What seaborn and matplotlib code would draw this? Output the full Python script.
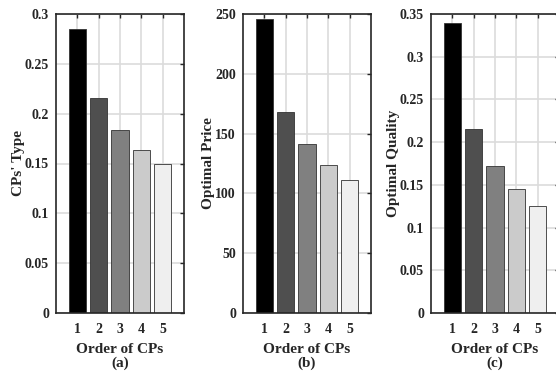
import matplotlib
matplotlib.use("Agg")
import matplotlib.pyplot as plt
import seaborn as sns
import pandas as pd
from matplotlib.ticker import FixedLocator, FuncFormatter

order = ["1", "2", "3", "4", "5"]
cp_type = [0.285, 0.216, 0.184, 0.164, 0.150]
opt_price = [246, 168, 141, 124, 111]
opt_quality = [0.340, 0.215, 0.172, 0.145, 0.125]
bar_colors = ["#000000", "#4f4f4f", "#808080", "#cbcbcb", "#efefef"]

ylabels = ["CPs' Type", "Optimal Price", "Optimal Quality"]
captions = ["(a)", "(b)", "(c)"]
yticks = [[0, 0.05, 0.1, 0.15, 0.2, 0.25, 0.3],
          [0, 50, 100, 150, 200, 250],
          [0, 0.05, 0.1, 0.15, 0.2, 0.25, 0.3, 0.35]]
ylims = [(0, 0.3), (0, 250), (0, 0.35)]
series = [cp_type, opt_price, opt_quality]

sns.set_style("white")
plt.rcParams["font.family"] = ["Liberation Serif", "DejaVu Serif"]
plt.rcParams["font.weight"] = "bold"

fig = plt.figure(figsize=(5.56, 3.74), dpi=100)
lefts = [56 / 556, 243 / 556, 431 / 556]
w = 128 / 556
b = (374 - 313) / 374
h = (313 - 14) / 374

fmt = FuncFormatter(lambda v, p: ("%g" % v))

for i in range(3):
    ax = fig.add_axes([lefts[i], b, w, h])
    df = pd.DataFrame({"order": order, "value": series[i]})
    sns.barplot(data=df, x="order", y="value", hue="order", palette=bar_colors,
                order=order, hue_order=order, legend=False, width=0.8,
                edgecolor="#333333", linewidth=0.6, saturation=1, ax=ax)
    ax.set_xlim(-1, 5)
    ax.set_ylim(*ylims[i])
    ax.yaxis.set_major_locator(FixedLocator(yticks[i]))
    ax.yaxis.set_major_formatter(fmt)
    ax.set_axisbelow(True)
    ax.grid(True, color="#dcdcdc", linewidth=1.2)
    ax.tick_params(direction="in", length=3, width=1, top=True, right=True,
                   labelsize=10, pad=5, color="#262626")
    ax.tick_params(axis="x", pad=7)
    for lab in ax.get_xticklabels() + ax.get_yticklabels():
        lab.set_fontweight("bold")
    for s in ax.spines.values():
        s.set_visible(True)
        s.set_color("#262626")
        s.set_linewidth(1.2)
    ax.set_xlabel("Order of CPs\n" + captions[i], fontsize=11,
                  fontweight="bold", labelpad=5, linespacing=1.05)
    ax.set_ylabel(ylabels[i], fontsize=11, fontweight="bold", labelpad=0)

fig.savefig("out.png", dpi=100)
